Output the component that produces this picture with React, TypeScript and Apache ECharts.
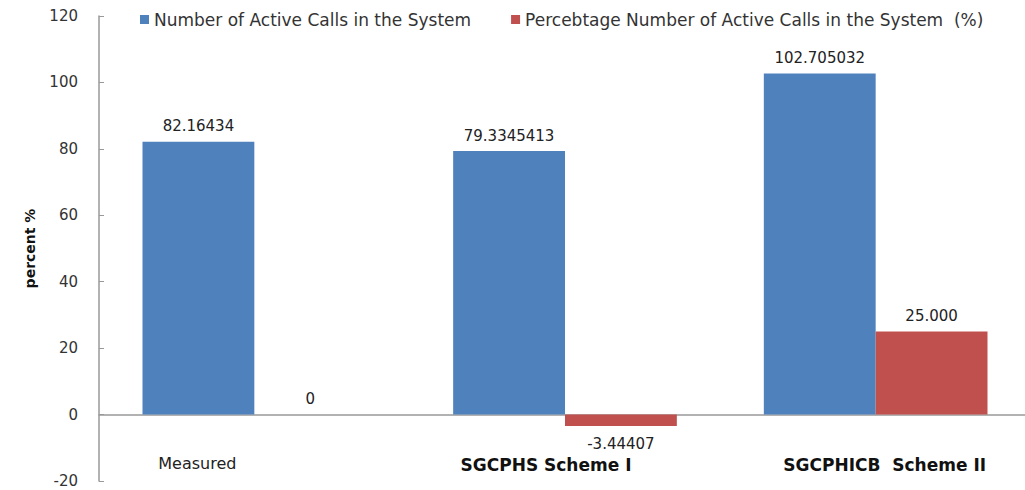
import React, { useEffect, useRef } from "react";
import * as echarts from "echarts";

const categories = ["Measured", "SGCPHS Scheme I", "SGCPHICB  Scheme II"];
const seriesNames = [
  "Number of Active Calls in the System",
  "Percebtage Number of Active Calls in the System  (%)",
];
const activeCalls = [82.16434, 79.3345413, 102.705032];
const activeCallsLabels = ["82.16434", "79.3345413", "102.705032"];
const percentChange = [0, -3.44407, 25.0];
const percentChangeLabels = ["0", "-3.44407", "25.000"];
const categoryStyles = ["m", "s1", "s2"];

const FONT = "DejaVu Sans";

export default function App() {
  const ref = useRef<HTMLDivElement>(null);
  useEffect(() => {
    if (!ref.current) return;
    const chart = echarts.init(ref.current, null, { renderer: "svg" });
    chart.setOption({
      animation: false,
      backgroundColor: "#ffffff",
      textStyle: { fontFamily: FONT },
      legend: {
        top: 6,
        left: 135,
        itemWidth: 9,
        itemHeight: 9,
        itemGap: 40,
        icon: "rect",
        textStyle: { fontFamily: FONT, fontSize: 17, color: "#333" },
        data: seriesNames,
      },
      grid: {
        left: 99,
        right: -6,
        top: 16,
        bottom: 9,
        containLabel: false,
        outerBoundsMode: "none",
      },
      xAxis: {
        type: "category",
        data: categories,
        axisLine: { onZero: true, lineStyle: { color: "#999", width: 1.5 } },
        axisTick: { show: false },
        axisLabel: {
          margin: -28,
          interval: 0,
          formatter: (v: string, i: number) => `{${categoryStyles[i]}|${v}}`,
          rich: {
            m: { fontFamily: FONT, fontSize: 16, color: "#222", padding: [2, 114, 0, 0] },
            s1: { fontFamily: FONT, fontSize: 17, fontWeight: "bold", color: "#111", padding: [3, 38, 0, 0] },
            s2: { fontFamily: FONT, fontSize: 17, fontWeight: "bold", color: "#111", padding: [3, 0, 0, 18] },
          },
        },
      },
      yAxis: {
        type: "value",
        min: -20,
        max: 120,
        interval: 20,
        name: "percent %",
        nameLocation: "middle",
        nameGap: 62,
        nameTextStyle: { fontFamily: FONT, fontSize: 14, fontWeight: "bold", color: "#111" },
        axisLine: { show: true, lineStyle: { color: "#999", width: 1.5 } },
        axisTick: { show: true, inside: true, length: 5, lineStyle: { color: "#999" } },
        axisLabel: { fontFamily: FONT, fontSize: 15, color: "#333", margin: 21 },
        splitLine: { show: false },
      },
      series: [
        {
          name: seriesNames[0],
          type: "bar",
          data: activeCalls,
          barGap: "0%",
          barCategoryGap: "28%",
          itemStyle: { color: "#4F81BD" },
          label: {
            show: true,
            position: "top",
            distance: 8,
            fontFamily: FONT,
            fontSize: 15,
            color: "#222",
            formatter: (p: any) => activeCallsLabels[p.dataIndex],
          },
        },
        {
          name: seriesNames[1],
          type: "bar",
          data: percentChange.map((v) => ({
            value: v,
            label: v < 0 ? { position: "bottom", distance: 10 } : undefined,
          })),
          barGap: "0%",
          barCategoryGap: "28%",
          itemStyle: { color: "#C0504D" },
          label: {
            show: true,
            position: "top",
            distance: 8,
            fontFamily: FONT,
            fontSize: 15,
            color: "#222",
            formatter: (p: any) => percentChangeLabels[p.dataIndex],
          },
        },
      ],
    });
    return () => chart.dispose();
  }, []);
  return (
    <div
      ref={ref}
      style={{ position: "absolute", left: 0, top: 0, width: 1025, height: 490 }}
    />
  );
}
